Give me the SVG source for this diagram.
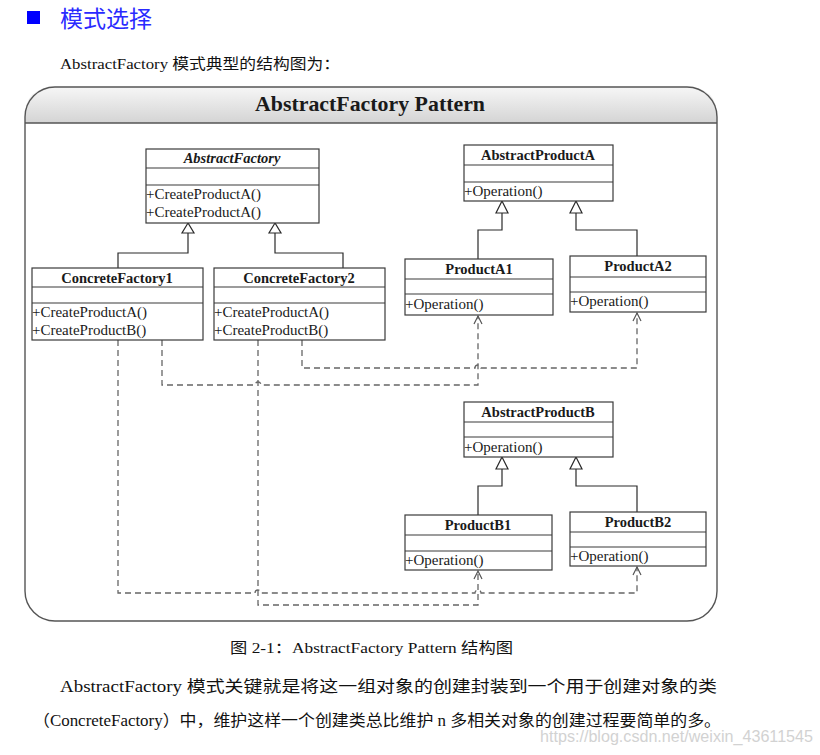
<svg xmlns="http://www.w3.org/2000/svg" width="820" height="755" viewBox="0 0 820 755">
<style>
.box{fill:#fff;stroke:#3a3a3a;stroke-width:1.2}
.sep{stroke:#3a3a3a;stroke-width:1.2}
.ttl{font-family:"Liberation Serif",serif;font-weight:bold;font-size:14.5px;fill:#1a1a1a;text-anchor:middle}
.mth{font-family:"Liberation Serif",serif;font-size:15px;fill:#1a1a1a}
.gen{fill:none;stroke:#2a2a2a;stroke-width:1.2}
.tri{fill:#fff;stroke:#2a2a2a;stroke-width:1.2}
.dep{fill:none;stroke:#666;stroke-width:1.3;stroke-dasharray:6 4;marker-end:url(#open)}
.cn{font-family:"Liberation Serif","Noto Sans CJK SC",serif;fill:#111}
</style>
<defs>
<linearGradient id="band" x1="0" y1="0" x2="0" y2="1">
<stop offset="0" stop-color="#f6f6f6"/>
<stop offset="1" stop-color="#d4d4d4"/>
</linearGradient>
<marker id="open" viewBox="-10 -6 12 12" refX="0" refY="0" markerWidth="12" markerHeight="12" markerUnits="userSpaceOnUse" orient="auto">
<path d="M-8,-4 L0,0 L-8,4" fill="none" stroke="#555" stroke-width="1.2"/>
</marker>
</defs>
<rect width="820" height="755" fill="#fff"/>

<g id="header">
<rect x="27" y="11" width="13" height="13" fill="#0000ff"/>
<text x="60" y="27" font-family="Noto Sans CJK SC, sans-serif" font-size="23" fill="#2a2aff">模式选择</text>
<text class="cn" x="60" y="69" font-size="15" textLength="280" lengthAdjust="spacingAndGlyphs">AbstractFactory 模式典型的结构图为：</text>
</g>

<g id="frame">
<path d="M25,123 L25,117 Q25,87 55,87 L687,87 Q717,87 717,117 L717,123 Z" fill="url(#band)"/>
<rect x="25" y="87" width="692" height="534" rx="30" ry="30" fill="none" stroke="#555" stroke-width="1.4"/>
<line x1="25" y1="123" x2="717" y2="123" stroke="#555" stroke-width="1.4"/>
<text x="370" y="111" font-family="Liberation Serif, serif" font-weight="bold" font-size="21" fill="#1a1a1a" text-anchor="middle" textLength="230" lengthAdjust="spacingAndGlyphs">AbstractFactory Pattern</text>
</g>

<g id="connectors">
<!-- generalizations -->
<path class="gen" d="M188,233 V253 H118 V268"/>
<path class="gen" d="M275,233 V253 H343 V268"/>
<polygon class="tri" points="188,223 182,233 194,233"/>
<polygon class="tri" points="275,223 269,233 281,233"/>
<path class="gen" d="M502,213 V230 H478 V259"/>
<path class="gen" d="M576,213 V230 H637 V256"/>
<polygon class="tri" points="502,201 496,213 508,213"/>
<polygon class="tri" points="576,201 570,213 582,213"/>
<path class="gen" d="M502,469 V486 H478 V515"/>
<path class="gen" d="M576,469 V486 H637 V512"/>
<polygon class="tri" points="502,457 496,469 508,469"/>
<polygon class="tri" points="576,457 570,469 582,469"/>
<!-- dependencies -->
<path class="dep" d="M162,340 V385 H255 A3,3 0 0 1 261,385 H478 V316"/>
<path class="dep" d="M302,340 V368 H475 A3,3 0 0 1 481,368 H637 V313"/>
<path class="dep" d="M118,340 V593 H255 A3,3 0 0 1 261,593 H475 A3,3 0 0 1 481,593 H637 V567"/>
<path class="dep" d="M258,340 V605 H478 V571"/>
</g>

<g id="AbstractFactory">
<rect class="box" x="146" y="149" width="173" height="74"/>
<line class="sep" x1="146" y1="168" x2="319" y2="168"/>
<line class="sep" x1="146" y1="185" x2="319" y2="185"/>
<text class="ttl" x="232" y="163" font-style="italic">AbstractFactory</text>
<text class="mth" x="146" y="199">+CreateProductA()</text>
<text class="mth" x="146" y="217">+CreateProductA()</text>
</g>

<g id="ConcreteFactory1">
<rect class="box" x="32" y="268" width="171" height="72"/>
<line class="sep" x1="32" y1="287" x2="203" y2="287"/>
<line class="sep" x1="32" y1="303" x2="203" y2="303"/>
<text class="ttl" x="117" y="283">ConcreteFactory1</text>
<text class="mth" x="32" y="317">+CreateProductA()</text>
<text class="mth" x="32" y="335">+CreateProductB()</text>
</g>

<g id="ConcreteFactory2">
<rect class="box" x="214" y="268" width="171" height="72"/>
<line class="sep" x1="214" y1="287" x2="385" y2="287"/>
<line class="sep" x1="214" y1="303" x2="385" y2="303"/>
<text class="ttl" x="299" y="283">ConcreteFactory2</text>
<text class="mth" x="214" y="317">+CreateProductA()</text>
<text class="mth" x="214" y="335">+CreateProductB()</text>
</g>

<g id="AbstractProductA">
<rect class="box" x="464" y="145" width="149" height="56"/>
<line class="sep" x1="464" y1="165" x2="613" y2="165"/>
<line class="sep" x1="464" y1="182" x2="613" y2="182"/>
<text class="ttl" x="538" y="160">AbstractProductA</text>
<text class="mth" x="464" y="196">+Operation()</text>
</g>

<g id="ProductA1">
<rect class="box" x="405" y="259" width="148" height="56"/>
<line class="sep" x1="405" y1="279" x2="553" y2="279"/>
<line class="sep" x1="405" y1="294" x2="553" y2="294"/>
<text class="ttl" x="479" y="274">ProductA1</text>
<text class="mth" x="405" y="309">+Operation()</text>
</g>

<g id="ProductA2">
<rect class="box" x="570" y="256" width="136" height="56"/>
<line class="sep" x1="570" y1="277" x2="706" y2="277"/>
<line class="sep" x1="570" y1="292" x2="706" y2="292"/>
<text class="ttl" x="638" y="271">ProductA2</text>
<text class="mth" x="570" y="306">+Operation()</text>
</g>

<g id="AbstractProductB">
<rect class="box" x="464" y="402" width="149" height="55"/>
<line class="sep" x1="464" y1="422" x2="613" y2="422"/>
<line class="sep" x1="464" y1="437" x2="613" y2="437"/>
<text class="ttl" x="538" y="417">AbstractProductB</text>
<text class="mth" x="464" y="452">+Operation()</text>
</g>

<g id="ProductB1">
<rect class="box" x="405" y="515" width="147" height="55"/>
<line class="sep" x1="405" y1="535" x2="552" y2="535"/>
<line class="sep" x1="405" y1="551" x2="552" y2="551"/>
<text class="ttl" x="478" y="530">ProductB1</text>
<text class="mth" x="405" y="565">+Operation()</text>
</g>

<g id="ProductB2">
<rect class="box" x="570" y="512" width="136" height="54"/>
<line class="sep" x1="570" y1="532" x2="706" y2="532"/>
<line class="sep" x1="570" y1="547" x2="706" y2="547"/>
<text class="ttl" x="638" y="527">ProductB2</text>
<text class="mth" x="570" y="561">+Operation()</text>
</g>

<g id="caption">
<text class="cn" x="230" y="653" font-size="15" textLength="283" lengthAdjust="spacingAndGlyphs">图 2-1：AbstractFactory Pattern 结构图</text>
<text class="cn" x="60" y="692" font-size="16" textLength="657" lengthAdjust="spacingAndGlyphs">AbstractFactory  模式关键就是将这一组对象的创建封装到一个用于创建对象的类</text>
<text class="cn" x="33" y="726" font-size="16" textLength="688" lengthAdjust="spacingAndGlyphs">（ConcreteFactory）中，维护这样一个创建类总比维护 n 多相关对象的创建过程要简单的多。</text>
<text x="540" y="742" font-family="Liberation Sans, sans-serif" font-size="16" fill="#d2d2d2" textLength="273" lengthAdjust="spacingAndGlyphs">https://blog.csdn.net/weixin_43611545</text>
</g>
</svg>
